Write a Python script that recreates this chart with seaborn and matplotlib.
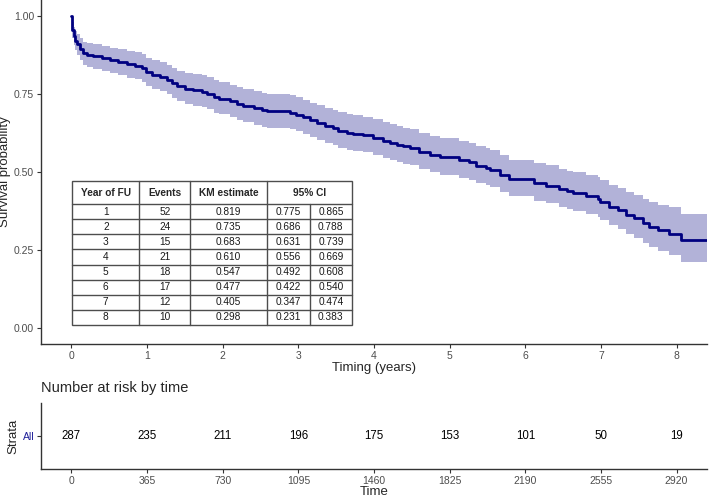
import numpy as np
import pandas as pd
import matplotlib
matplotlib.use("Agg")
import matplotlib.pyplot as plt
import seaborn as sns
from matplotlib.patches import Rectangle

# ---------------- DATA ----------------
time_years = [0.00, 0.01, 0.03, 0.05, 0.08, 0.12, 0.16, 0.21, 0.29, 0.40,
              0.51, 0.62, 0.73, 0.84, 0.93, 0.98, 1.06, 1.17, 1.26, 1.33,
              1.39, 1.50, 1.61, 1.72, 1.79, 1.88, 1.95, 2.10, 2.19, 2.27,
              2.41, 2.52, 2.58, 2.89, 2.97, 3.06, 3.15, 3.24, 3.35, 3.46,
              3.53, 3.64, 3.72, 3.86, 3.99, 4.12, 4.21, 4.30, 4.38, 4.47,
              4.60, 4.74, 4.87, 5.13, 5.26, 5.35, 5.48, 5.53, 5.66, 5.79,
              6.12, 6.28, 6.45, 6.55, 6.63, 6.80, 6.96, 6.99, 7.11, 7.22,
              7.33, 7.44, 7.55, 7.64, 7.75, 7.90, 8.06, 8.40]
surv = [1.000, 0.955, 0.934, 0.920, 0.908, 0.893, 0.880, 0.875, 0.870, 0.864,
        0.857, 0.851, 0.845, 0.840, 0.832, 0.819, 0.811, 0.804, 0.795, 0.784,
        0.774, 0.767, 0.762, 0.757, 0.750, 0.740, 0.735, 0.726, 0.718, 0.712,
        0.704, 0.697, 0.694, 0.690, 0.683, 0.675, 0.665, 0.656, 0.648, 0.640,
        0.632, 0.625, 0.622, 0.617, 0.610, 0.600, 0.594, 0.587, 0.582, 0.576,
        0.565, 0.554, 0.547, 0.537, 0.531, 0.520, 0.514, 0.506, 0.490, 0.477,
        0.464, 0.456, 0.445, 0.438, 0.432, 0.423, 0.414, 0.405, 0.389, 0.378,
        0.362, 0.352, 0.336, 0.325, 0.314, 0.303, 0.282, 0.282]
ci_lower = [1.000, 0.930, 0.905, 0.889, 0.875, 0.858, 0.843, 0.837, 0.831, 0.824,
            0.816, 0.809, 0.802, 0.797, 0.788, 0.775, 0.766, 0.758, 0.748, 0.736,
            0.726, 0.718, 0.712, 0.707, 0.700, 0.690, 0.686, 0.676, 0.667, 0.661,
            0.652, 0.645, 0.642, 0.638, 0.631, 0.622, 0.612, 0.602, 0.594, 0.586,
            0.578, 0.571, 0.568, 0.563, 0.556, 0.546, 0.539, 0.532, 0.527, 0.521,
            0.510, 0.499, 0.492, 0.482, 0.476, 0.465, 0.459, 0.451, 0.435, 0.422,
            0.409, 0.400, 0.389, 0.382, 0.375, 0.366, 0.357, 0.347, 0.330, 0.318,
            0.301, 0.290, 0.272, 0.260, 0.248, 0.236, 0.213, 0.213]
ci_upper = [1.000, 0.980, 0.963, 0.951, 0.941, 0.928, 0.917, 0.913, 0.909, 0.904,
            0.898, 0.893, 0.888, 0.884, 0.877, 0.865, 0.857, 0.851, 0.843, 0.833,
            0.824, 0.818, 0.813, 0.809, 0.803, 0.793, 0.788, 0.779, 0.771, 0.766,
            0.758, 0.752, 0.749, 0.745, 0.739, 0.731, 0.722, 0.713, 0.706, 0.698,
            0.691, 0.684, 0.681, 0.676, 0.669, 0.660, 0.654, 0.647, 0.642, 0.637,
            0.626, 0.615, 0.608, 0.599, 0.593, 0.582, 0.577, 0.569, 0.553, 0.540,
            0.528, 0.521, 0.510, 0.504, 0.499, 0.491, 0.483, 0.474, 0.459, 0.449,
            0.435, 0.426, 0.413, 0.403, 0.394, 0.388, 0.367, 0.367]

table_year = [1, 2, 3, 4, 5, 6, 7, 8]
table_events = [52, 24, 15, 21, 18, 17, 12, 10]
table_km = ["0.819", "0.735", "0.683", "0.610", "0.547", "0.477", "0.405", "0.298"]
table_lo = ["0.775", "0.686", "0.631", "0.556", "0.492", "0.422", "0.347", "0.231"]
table_hi = ["0.865", "0.788", "0.739", "0.669", "0.608", "0.540", "0.474", "0.383"]

risk_days = [0, 365, 730, 1095, 1460, 1825, 2190, 2555, 2920]
risk_n = [287, 235, 211, 196, 175, 153, 101, 50, 19]

KM_COLOR = "#000080"
GREY = "#4d4d4d"

sns.set_theme(style="ticks")
plt.rcParams["font.family"] = ["Liberation Sans", "DejaVu Sans"]

fig = plt.figure(figsize=(7.09, 4.98), dpi=100)
ax = fig.add_axes([0.058, 0.309, 0.939, 0.691])
rax = fig.add_axes([0.058, 0.058, 0.939, 0.133])

# ---------------- KM CURVE ----------------
km = pd.DataFrame({"time": time_years, "surv": surv,
                   "lower": ci_lower, "upper": ci_upper})

ax.fill_between(km["time"], km["lower"], km["upper"], step="post",
                color=KM_COLOR, alpha=0.3, linewidth=0)
sns.lineplot(data=km, x="time", y="surv", estimator=None, sort=False,
             drawstyle="steps-post", color=KM_COLOR, linewidth=2, ax=ax)

ax.set_xlim(-0.4, 8.4)
ax.set_ylim(-0.05, 1.05)
ax.set_xticks(range(9))
ax.set_yticks([0, 0.25, 0.5, 0.75, 1.0])
ax.set_yticklabels(["0.00", "0.25", "0.50", "0.75", "1.00"])
ax.set_xlabel("Timing (years)", fontsize=9.5, labelpad=1)
ax.set_ylabel("Survival probability", fontsize=9.5, labelpad=2)
ax.tick_params(length=3, width=0.8, color="#333333", labelsize=7.5,
               labelcolor=GREY, pad=2)
sns.despine(ax=ax)
for s in ["left", "bottom"]:
    ax.spines[s].set_color("#333333")
    ax.spines[s].set_linewidth(1.0)

# ---------------- INSET TABLE ----------------
col_edges = [0.01, 0.90, 1.57, 2.59, 3.15, 3.71]
top, head_bot, bot = 0.472, 0.397, 0.012
row_h = (head_bot - bot) / len(table_year)
line_kw = dict(color=GREY, linewidth=1.0, zorder=4)
fs = 7.3

ax.add_patch(Rectangle((col_edges[0], bot), col_edges[-1] - col_edges[0],
                       top - bot, facecolor="white", edgecolor=GREY,
                       linewidth=1.0, zorder=3))
for k, xe in enumerate(col_edges[1:-1], start=1):
    # the split between the two CI columns stops under the header
    y1 = head_bot if k == 4 else top
    ax.plot([xe, xe], [bot, y1], **line_kw)
for i in range(len(table_year)):
    yy = head_bot - i * row_h
    ax.plot([col_edges[0], col_edges[-1]], [yy, yy], **line_kw)

headers = ["Year of FU", "Events", "KM estimate"]
for j, h in enumerate(headers):
    ax.text((col_edges[j] + col_edges[j + 1]) / 2, (top + head_bot) / 2, h,
            ha="center", va="center", fontsize=fs, fontweight="bold", zorder=5)
ax.text((col_edges[3] + col_edges[5]) / 2, (top + head_bot) / 2, "95% CI",
        ha="center", va="center", fontsize=fs, fontweight="bold", zorder=5)

for i in range(len(table_year)):
    yc = head_bot - (i + 0.5) * row_h
    cells = [str(table_year[i]), str(table_events[i]), table_km[i],
             table_lo[i], table_hi[i]]
    for j, c in enumerate(cells):
        ax.text((col_edges[j] + col_edges[j + 1]) / 2, yc, c,
                ha="center", va="center", fontsize=fs, color="#1a1a1a", zorder=5)

# ---------------- RISK TABLE ----------------
rax.set_xlim(-0.4 * 365, 8.4 * 365)
rax.set_ylim(0, 1)
for d, n in zip(risk_days, risk_n):
    rax.text(d, 0.5, str(n), ha="center", va="center", fontsize=8.3, color="black")
rax.set_xticks(risk_days)
rax.set_yticks([0.5])
rax.set_yticklabels(["All"])
rax.tick_params(length=3, width=0.8, color="#333333", labelsize=7.5,
                labelcolor=GREY, pad=2)
for lab in rax.get_yticklabels():
    lab.set_color("#1f1f99")
rax.set_xlabel("Time", fontsize=9.5, labelpad=0)
rax.set_ylabel("Strata", fontsize=9.5, labelpad=2)
rax.set_title("Number at risk by time", loc="left", fontsize=10.5, pad=8)
sns.despine(ax=rax)
for s in ["left", "bottom"]:
    rax.spines[s].set_color("#333333")
    rax.spines[s].set_linewidth(1.0)

fig.savefig("out.png", dpi=100)
plt.close(fig)
